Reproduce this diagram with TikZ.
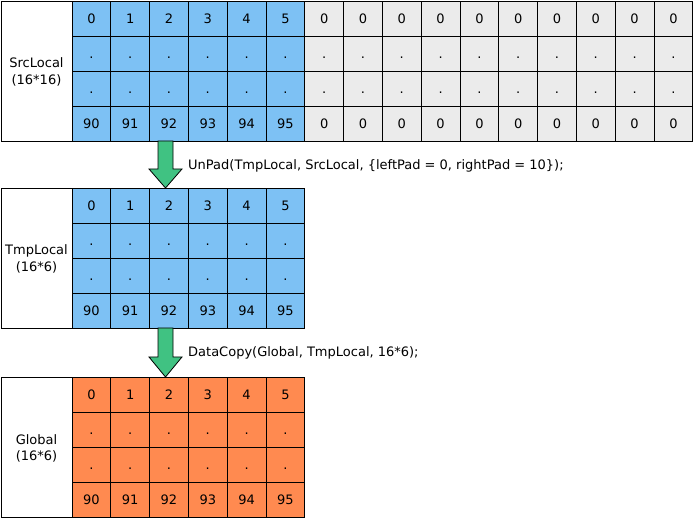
\documentclass[tikz,border=0pt]{standalone}
\usepackage{fontspec}
\setmainfont{DejaVu Sans}
\definecolor{tileblue}{HTML}{7DC1F4}
\definecolor{padgrey}{HTML}{EBEBEB}
\definecolor{gmorange}{HTML}{FF8A50}
\definecolor{arrgreen}{HTML}{40C282}
\tikzset{
  cell/.style={draw,line width=0.8pt,minimum width=38.8pt,minimum height=35pt,
    inner sep=0pt,text height=11pt,text depth=0pt,font=\fontsize{13}{15}\selectfont},
  tag/.style={draw,line width=0.8pt,minimum width=71pt,minimum height=140pt,
    inner sep=0pt,align=center,text height=28pt,text depth=0pt,
    font=\fontsize{13}{17}\selectfont},
  blockarr/.style={draw,fill=arrgreen,line width=0.8pt,line join=miter},
  optext/.style={anchor=base west,inner sep=0pt,font=\fontsize{13}{15}\selectfont}
}
\begin{document}
\begin{tikzpicture}[x=1pt,y=-1pt]
\useasboundingbox (0,0) rectangle (694,518);

% source tensor, 16 columns
\node[tag] (srcTag) at (36.5,71) {SrcLocal\\(16*16)};
\foreach \r in {0,...,3}{
  \foreach \c in {0,...,15}{
    \pgfmathtruncatemacro{\v}{\r==0 ? \c : 90+\c}
    \ifnum\c<6 \def\cfill{tileblue}\else\def\cfill{padgrey}\fi
    \ifnum\r=1 \def\txt{.}\else\ifnum\r=2 \def\txt{.}\else
      \ifnum\c<6 \def\txt{\v}\else\def\txt{0}\fi\fi\fi
    \node[cell,fill=\cfill] (src-\r-\c) at ({72+38.8*(\c+0.5)},{1+35*(\r+0.5)}) {\txt};
  }
}

% tmp tensor
\node[tag] (tmpTag) at (36.5,258) {TmpLocal\\(16*6)};
\foreach \r in {0,...,3}{
  \foreach \c in {0,...,5}{
    \pgfmathtruncatemacro{\v}{\r==0 ? \c : 90+\c}
    \ifnum\r=1 \def\txt{.}\else\ifnum\r=2 \def\txt{.}\else\def\txt{\v}\fi\fi
    \node[cell,fill=tileblue] (tmp-\r-\c) at ({72+38.8*(\c+0.5)},{188+35*(\r+0.5)}) {\txt};
  }
}

% global tensor
\node[tag] (gmTag) at (36.5,447) {Global\\(16*6)};
\foreach \r in {0,...,3}{
  \foreach \c in {0,...,5}{
    \pgfmathtruncatemacro{\v}{\r==0 ? \c : 90+\c}
    \ifnum\r=1 \def\txt{.}\else\ifnum\r=2 \def\txt{.}\else\def\txt{\v}\fi\fi
    \node[cell,fill=gmorange] (gm-\r-\c) at ({72+38.8*(\c+0.5)},{377+35*(\r+0.5)}) {\txt};
  }
}

% arrows
\filldraw[blockarr](158,141)--(173,141)--(173,169)--(182,169)--(165.5,188)--(149,169)--(158,169)--cycle;
\filldraw[blockarr](158,328)--(173,328)--(173,357)--(182,357)--(165.5,377)--(149,357)--(158,357)--cycle;

\node[optext] (unpadOp) at (188,169.5) {UnPad(TmpLocal, SrcLocal, \{leftPad = 0, rightPad = 10\});};
\node[optext] (copyOp) at (188,356.5) {DataCopy(Global, TmpLocal, 16*6);};
\end{tikzpicture}
\end{document}
